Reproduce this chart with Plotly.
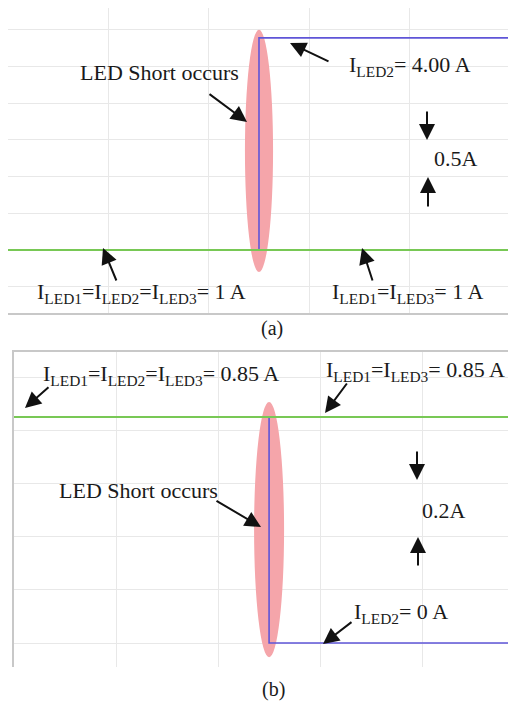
import plotly.graph_objects as go

# ---------------- data ----------------
# panel (a): LED currents (A) vs time (divisions)
t_a = [0, 2.5, 2.5, 5]
i_led2_a = [1.0, 1.0, 3.89, 3.89]
t_a13 = [0, 5]
i_led13_a = [1.0, 1.0]

# panel (b)
t_b = [0, 2.5, 2.5, 4.92]
i_led2_b = [0.85, 0.85, 0.0, 0.0]
t_b13 = [0, 4.92]
i_led13_b = [0.85, 0.85]

step_time = 2.5
short_span_a = [0.70, 4.00]
short_span_b = [-0.053, 0.906]

OFF = 8  # page body margin in the browser
W, H = 516 - OFF, 702 - OFF
FONT = "Liberation Serif, Times New Roman, serif"
GREEN = "rgb(120,200,85)"
BLUE = "rgb(95,85,215)"
PINK = "rgb(245,165,170)"
GRID = "rgb(232,232,232)"
BORDER = "rgb(200,200,200)"

fig = go.Figure()

fig.add_trace(go.Scatter(x=t_a, y=i_led2_a, mode="lines", line=dict(color=BLUE, width=1.6),
                         xaxis="x", yaxis="y", showlegend=False))
fig.add_trace(go.Scatter(x=t_a13, y=i_led13_a, mode="lines", line=dict(color=GREEN, width=2),
                         xaxis="x", yaxis="y", showlegend=False))
fig.add_trace(go.Scatter(x=t_b, y=i_led2_b, mode="lines", line=dict(color=BLUE, width=1.6),
                         xaxis="x2", yaxis="y2", showlegend=False))
fig.add_trace(go.Scatter(x=t_b13, y=i_led13_b, mode="lines", line=dict(color=GREEN, width=2),
                         xaxis="x2", yaxis="y2", showlegend=False))

# ellipses marking the short event
fig.add_shape(type="circle", xref="x", yref="y", x0=step_time - 0.14, x1=step_time + 0.14,
              y0=short_span_a[0], y1=short_span_a[1], fillcolor=PINK, line=dict(width=0),
              layer="between")
fig.add_shape(type="circle", xref="x2", yref="y2", x0=step_time - 0.147, x1=step_time + 0.147,
              y0=short_span_b[0], y1=short_span_b[1], fillcolor=PINK, line=dict(width=0),
              layer="between")


def px(x, y):
    return (x - OFF) / W, 1 - (y - OFF) / H


ann = []


def text(s, cx, cy, size=22):
    x, y = px(cx, cy)
    ann.append(dict(text=s, x=x, y=y, xref="paper", yref="paper", showarrow=False,
                    xanchor="center", yanchor="middle",
                    font=dict(family=FONT, size=size, color="#1a1a1a")))


def arrow(head, tail):
    x, y = px(*head)
    ann.append(dict(text="", x=x, y=y, xref="paper", yref="paper", showarrow=True,
                    ax=tail[0] - head[0], ay=tail[1] - head[1],
                    arrowhead=2, arrowsize=1.6, arrowwidth=2, arrowcolor="#111"))


S = "<sub>"
E = "</sub>"
# panel (a)
text("LED Short occurs", 159, 73)
text(f"I{S}LED2{E}= 4.00 A", 410, 66)
text("0.5A", 456, 158)
text(f"I{S}LED1{E}=I{S}LED2{E}=I{S}LED3{E}= 1 A", 141, 293)
text(f"I{S}LED1{E}=I{S}LED3{E}= 1 A", 408, 293)
text("(a)", 272, 328, 20)
arrow((247, 122), (208, 93))
arrow((290, 43), (330, 62))
arrow((427, 140), (427, 110))
arrow((428, 177), (428, 208))
arrow((103, 248), (117, 282))
arrow((362, 248), (373, 282))
# panel (b)
text(f"I{S}LED1{E}=I{S}LED2{E}=I{S}LED3{E}= 0.85 A", 161, 375)
text(f"I{S}LED1{E}=I{S}LED3{E}= 0.85 A", 415, 371)
text("LED Short occurs", 138, 490)
text("0.2A", 444, 510)
text(f"I{S}LED2{E}= 0 A", 401, 613)
text("(b)", 273, 689, 20)
arrow((25, 408), (50, 386))
arrow((325, 413), (348, 382))
arrow((261, 527), (215, 500))
arrow((417, 480), (417, 450))
arrow((418, 537), (418, 567))
arrow((323, 644), (353, 621))

common = dict(showticklabels=False, ticks="", zeroline=False, showgrid=True,
              gridcolor=GRID, gridwidth=1, fixedrange=True)

fig.update_layout(
    width=W, height=H,
    margin=dict(l=0, r=0, t=0, b=0),
    paper_bgcolor="white", plot_bgcolor="white",
    xaxis=dict(domain=[(8 - OFF) / W, (510 - OFF) / W], range=[0, 5], dtick=1, tick0=0,
               showline=True, linecolor=BORDER, linewidth=1.5, anchor="y", **common),
    yaxis=dict(domain=[1 - (313 - OFF) / H, 1.0], range=[0.142, 4.297], dtick=0.5, tick0=0,
               side="right", showline=True, linecolor=BORDER, linewidth=1.5, anchor="x", **common),
    xaxis2=dict(domain=[(14 - OFF) / W, 1.0], range=[0, 4.92], dtick=1, tick0=0, side="top",
                showline=True, linecolor=BORDER, linewidth=1.5, anchor="y2", **common),
    yaxis2=dict(domain=[1 - (667 - OFF) / H, 1 - (352 - OFF) / H], range=[-0.090, 1.094],
                dtick=0.2, tick0=0,
                showline=True, linecolor=BORDER, linewidth=1.5, anchor="x2", **common),
    annotations=ann,
)

fig.write_html("out.html")
